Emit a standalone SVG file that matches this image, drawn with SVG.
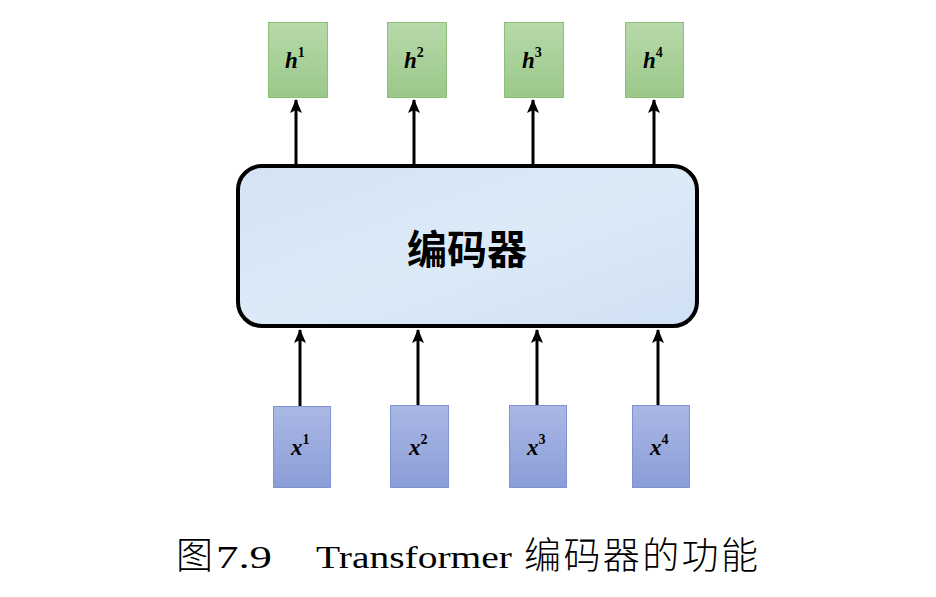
<svg xmlns="http://www.w3.org/2000/svg" width="936" height="597" viewBox="0 0 936 597">
<defs>
<linearGradient id="gGreen" x1="0" y1="0" x2="0" y2="1"><stop offset="0" stop-color="#b8d9aa"/><stop offset="1" stop-color="#9ac889"/></linearGradient>
<linearGradient id="gBlue" x1="0" y1="0" x2="0" y2="1"><stop offset="0" stop-color="#aab8e4"/><stop offset="1" stop-color="#8b9dd7"/></linearGradient>
<linearGradient id="gEnc" x1="0" y1="0" x2="1" y2="1"><stop offset="0" stop-color="#d3e3f5"/><stop offset="0.5" stop-color="#dceaf8"/><stop offset="1" stop-color="#d0e1f4"/></linearGradient>
<marker id="ah" viewBox="0 0 14 12" refX="13" refY="6" markerWidth="14" markerHeight="12" markerUnits="userSpaceOnUse" orient="auto"><path d="M0,0 L14,6 L0,12 L3,6 Z" fill="#000"/></marker>
</defs>
<style>
.out{fill:url(#gGreen);stroke:#8cc079;stroke-width:1}
.inp{fill:url(#gBlue);stroke:#7d93d3;stroke-width:1}
.lbl{font-family:"Liberation Serif",serif;font-weight:bold;font-style:italic;font-size:23px;fill:#000}
.sup{font-size:14px;font-style:normal}
.arr{stroke:#000;stroke-width:3;fill:none;marker-end:url(#ah)}
.cap{font-family:"Liberation Serif",serif;font-size:32px;fill:#000}
.capc{font-family:"Noto Sans CJK SC",sans-serif;font-size:37px;font-weight:300;fill:#000}
</style>
<g id="encoder">
<rect x="238" y="166" width="459" height="160" rx="24" ry="24" fill="url(#gEnc)" stroke="#000" stroke-width="4"/>
<text x="467" y="264" text-anchor="middle" font-family="'Noto Sans CJK SC',sans-serif" font-weight="bold" font-size="40">编码器</text>
</g>
<g id="h1"><rect class="out" x="268.5" y="22.5" width="59" height="75"/><text class="lbl" x="285" y="68">h<tspan class="sup" dy="-11">1</tspan></text></g>
<g id="h2"><rect class="out" x="387.5" y="22.5" width="59" height="75"/><text class="lbl" x="404" y="68">h<tspan class="sup" dy="-11">2</tspan></text></g>
<g id="h3"><rect class="out" x="504.5" y="22.5" width="59" height="75"/><text class="lbl" x="522" y="68">h<tspan class="sup" dy="-11">3</tspan></text></g>
<g id="h4"><rect class="out" x="625.5" y="22.5" width="58" height="75"/><text class="lbl" x="643" y="68">h<tspan class="sup" dy="-11">4</tspan></text></g>
<g id="x1"><rect class="inp" x="273.5" y="406.5" width="57" height="81"/><text class="lbl" x="291" y="455">x<tspan class="sup" dy="-11">1</tspan></text></g>
<g id="x2"><rect class="inp" x="390.5" y="405.5" width="58" height="82"/><text class="lbl" x="409" y="455">x<tspan class="sup" dy="-11">2</tspan></text></g>
<g id="x3"><rect class="inp" x="509.5" y="405.5" width="57" height="82"/><text class="lbl" x="527" y="455">x<tspan class="sup" dy="-11">3</tspan></text></g>
<g id="x4"><rect class="inp" x="632.5" y="405.5" width="57" height="82"/><text class="lbl" x="650" y="455">x<tspan class="sup" dy="-11">4</tspan></text></g>
<g id="connectors">
<line class="arr" x1="296" y1="166" x2="296" y2="100"/>
<line class="arr" x1="414" y1="166" x2="414" y2="100"/>
<line class="arr" x1="533" y1="166" x2="533" y2="100"/>
<line class="arr" x1="654" y1="166" x2="654" y2="100"/>
<line class="arr" x1="300" y1="406" x2="300" y2="330"/>
<line class="arr" x1="418" y1="405" x2="418" y2="330"/>
<line class="arr" x1="537" y1="405" x2="537" y2="330"/>
<line class="arr" x1="658" y1="405" x2="658" y2="330"/>
</g>
<g id="caption">
<text class="capc" x="176" y="569">图</text>
<text class="cap" x="216" y="568" textLength="56" lengthAdjust="spacingAndGlyphs">7.9</text>
<text class="cap" x="316" y="568" textLength="196" lengthAdjust="spacingAndGlyphs">Transformer</text>
<text class="capc" x="524" y="569" letter-spacing="2.4">编码器的功能</text>
</g>
</svg>
